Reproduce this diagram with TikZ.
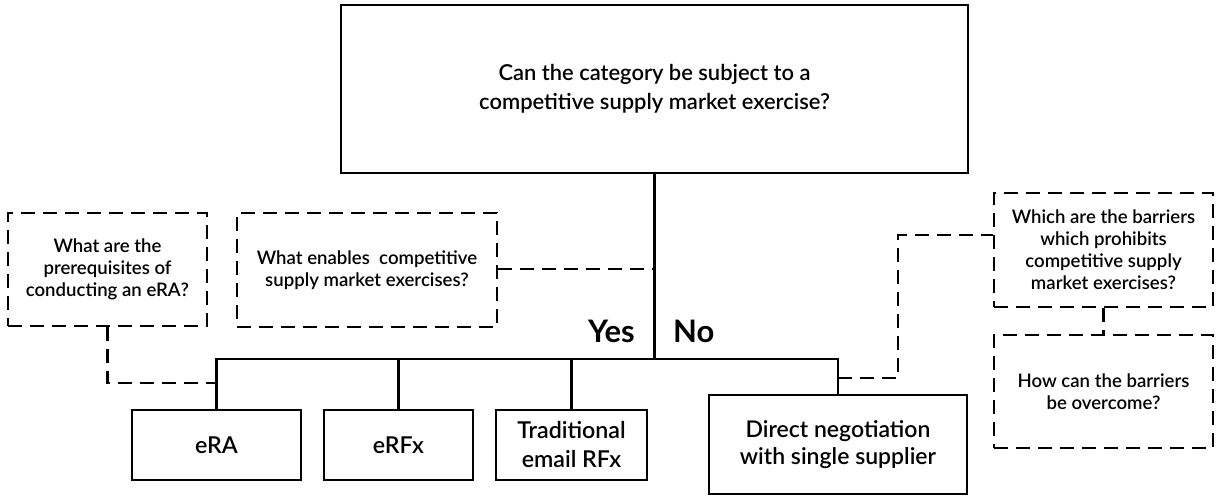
\documentclass[tikz,border=0pt]{standalone}
\usepackage{fontspec}
\setmainfont{Lato Semibold}[BoldFont=Lato Bold]

\tikzset{
  solidbox/.style={draw,line width=2.6pt,inner sep=0pt,align=center},
  questbox/.style={draw,line width=2.6pt,dash pattern=on 14pt off 8pt,inner sep=0pt,align=center,
    font=\fontsize{18.6}{22}\selectfont},
  link/.style={line width=2.6pt},
  dashlink/.style={line width=2.6pt,dash pattern=on 14pt off 8pt},
}

\begin{document}
\begin{tikzpicture}[x=1pt,y=-1pt]
        \useasboundingbox (0,0) rectangle (1219,496);

        % decision and outcomes
        \begin{scope}[every node/.style={solidbox}]
          \node[minimum width=627pt,minimum height=168pt,font=\fontsize{21.9}{29}\selectfont]
            (top) at (654.5,89) {Can the category be subject to a\\competitive supply market exercise?};
          \node[minimum width=169pt,minimum height=70pt,font=\fontsize{23.2}{29}\selectfont]
            (era) at (216.5,445) {eRA};
          \node[minimum width=149pt,minimum height=70pt,font=\fontsize{23.2}{29}\selectfont]
            (erfx) at (398.5,445) {eRFx};
          \node[minimum width=151pt,minimum height=70pt,font=\fontsize{23.2}{29}\selectfont]
            (trad) at (571.5,445) {Traditional\\email RFx};
          \node[minimum width=258pt,minimum height=99pt,font=\fontsize{23}{27}\selectfont]
            (direct) at (838,444.5) {Direct negotiation\\with single supplier};
        \end{scope}

        % open questions
        \begin{scope}[every node/.style={questbox}]
          \node[minimum width=199pt,minimum height=113pt] (prereq) at (107.5,269.5)
            {What are the\\prerequisites of\\conducting an eRA?};
          \node[minimum width=260pt,minimum height=114pt] (enables) at (367,270)
            {What enables\ \ competitive\\supply market exercises?};
          \node[minimum width=219pt,minimum height=114pt] (barriers) at (1103.5,250)
            {Which are the barriers\\which prohibits\\competitive supply\\market exercises?};
          \node[minimum width=219pt,minimum height=113pt] (overcome) at (1103.5,391.5)
            {How can the barriers\\be overcome?};
        \end{scope}

        \begin{scope}[every node/.style={font=\fontsize{31}{34}\selectfont\bfseries,inner sep=0pt}]
          \node[anchor=base east] (yes) at (635,342) {Yes};
          \node[anchor=base west] (no) at (673,342) {No};
        \end{scope}

        \coordinate (split) at (654.5,359);
        \coordinate (eratap) at (216.5,383);
        \coordinate (directtap) at (838,378);
        \coordinate (bend) at (898,235);

        \begin{scope}[every path/.style={link}]
          \draw (top) -- (split);
          \draw (era) |- (split) -| (direct);
          \draw (erfx) -- (erfx |- split);
          \draw (trad) -- (trad |- split);
        \end{scope}

        \begin{scope}[every path/.style={dashlink}]
          \draw (enables.east |- 0,269) -- (split |- 0,269);
          \draw (prereq.south) |- (eratap);
          \draw (directtap) -| (bend) -- (bend -| barriers.west);
          \draw (barriers) -- (overcome);
        \end{scope}

      \end{tikzpicture}
\end{document}
